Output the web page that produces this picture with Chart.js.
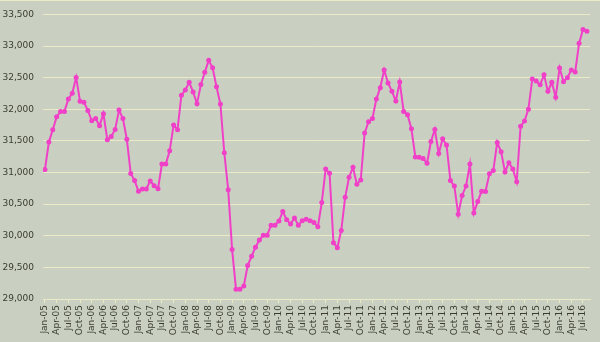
<!DOCTYPE html>
<html>
<head>
<meta charset="utf-8">
<script src="https://cdn.jsdelivr.net/npm/chart.js@4/dist/chart.umd.min.js"></script>
<style>
  html, body { margin: 0; padding: 0; background: #c9d0c1; }
  #wrap { width: 600px; height: 342px; position: relative; box-shadow: inset 0 1px 0 #ece9c6; }
</style>
</head>
<body>
<div id="wrap"><canvas id="chart"></canvas></div>
<script>
// Monthly values, Jan-05 .. Aug-16
const MONTHS = ['Jan', 'Feb', 'Mar', 'Apr', 'May', 'Jun', 'Jul', 'Aug', 'Sep', 'Oct', 'Nov', 'Dec'];
const START_YEAR = 5;

const values = [
  31046, 31481, 31675, 31880, 31966, 31966, 32161, 32253, 32503, 32125, 32110, 31982,
  31818, 31854, 31741, 31931, 31517, 31568, 31680, 31987, 31854, 31527, 30985, 30872,
  30704, 30740, 30740, 30867, 30791, 30745, 31133, 31133, 31343, 31752, 31675, 32222,
  32304, 32426, 32273, 32089, 32391, 32585, 32774, 32657, 32355, 32084, 31312, 30729,
  29784, 29155, 29155, 29206, 29528, 29676, 29819, 29932, 30009, 30009, 30167, 30167,
  30233, 30382, 30254, 30187, 30279, 30167, 30239, 30260, 30239, 30208, 30141, 30525,
  31056, 30990, 29891, 29809, 30085, 30607, 30924, 31082, 30816, 30883, 31624, 31803,
  31854, 32161, 32340, 32621, 32416, 32283, 32130, 32432, 31966, 31915, 31690, 31246,
  31241, 31220, 31148, 31491, 31680, 31302, 31532, 31435, 30872, 30786, 30341, 30637,
  30786, 31133, 30361, 30540, 30704, 30699, 30980, 31031, 31476, 31327, 31010, 31154,
  31056, 30852, 31731, 31813, 32002, 32478, 32447, 32386, 32544, 32283, 32426, 32191,
  32651, 32437, 32498, 32621, 32590, 33045, 33260, 33234
];

const labels = values.map((v, i) => {
  const yr = START_YEAR + Math.floor(i / 12);
  return MONTHS[i % 12] + '-' + String(yr).padStart(2, '0');
});

// Axis settings
const Y_MIN = 29000;
const Y_MAX = 33500;
const Y_STEP = 500;
const X_LABEL_EVERY = 3;

const GRID = '#ece9c6';
const LINE = '#f040c8';
const TEXT = '#3b3b34';

const ctx = document.getElementById('chart').getContext('2d');

new Chart(ctx, {
  type: 'line',
  data: {
    datasets: [{
      data: values.map((v, i) => ({ x: i, y: v })),
      borderColor: LINE,
      backgroundColor: LINE,
      borderWidth: 2,
      pointRadius: 2.5,
      pointBorderWidth: 0,
      pointBackgroundColor: LINE,
      tension: 0
    }]
  },
  options: {
    responsive: true,
    maintainAspectRatio: false,
    animation: false,
    layout: {
      padding: { top: 6, right: 10, left: 0, bottom: 0 }
    },
    plugins: {
      legend: { display: false },
      tooltip: { enabled: false }
    },
    scales: {
      x: {
        type: 'linear',
        min: -0.5,
        max: 139.8,
        afterBuildTicks: (axis) => {
          const t = [];
          for (let i = 0; i < labels.length; i += X_LABEL_EVERY) t.push({ value: i });
          axis.ticks = t;
        },
        afterFit: (axis) => { axis.height = 43; },
        grid: {
          drawOnChartArea: false,
          drawTicks: true,
          tickLength: 4,
          color: GRID
        },
        border: { display: true, color: GRID },
        ticks: {
          autoSkip: false,
          maxRotation: 90,
          minRotation: 90,
          padding: 2,
          color: TEXT,
          font: { family: 'DejaVu Sans', size: 9 },
          callback: (value) => labels[value]
        }
      },
      y: {
        min: Y_MIN,
        max: Y_MAX,
        afterFit: (axis) => { axis.width = 43; },
        grid: {
          color: GRID,
          lineWidth: 1,
          drawTicks: false
        },
        border: { display: false },
        ticks: {
          stepSize: Y_STEP,
          padding: 9,
          color: TEXT,
          font: { family: 'DejaVu Sans', size: 9 },
          callback: (value) => value.toLocaleString('en-US')
        }
      }
    }
  }
});
</script>
</body>
</html>
